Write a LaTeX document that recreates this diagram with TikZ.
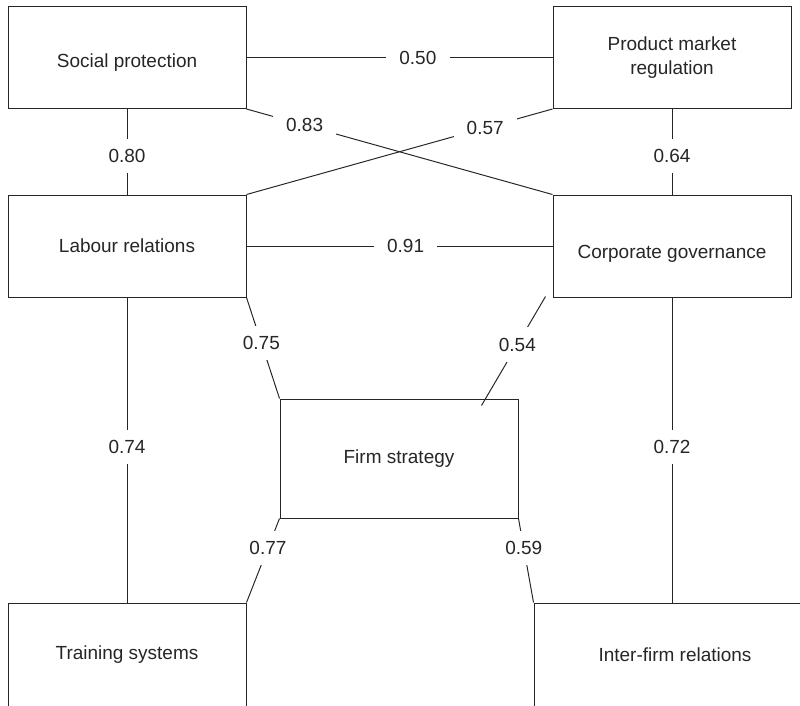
\documentclass[tikz,border=0pt]{standalone}
\usepackage{fontspec}
\setmainfont{Liberation Sans}
\usetikzlibrary{calc}

\begin{document}
\begin{tikzpicture}
      \newcommand{\corrlabel}[2]{node[lbl,pos=#1] {#2}}
      \tikzstyle{edge} = [draw=black!85, line width=0.7pt]
      \tikzstyle{box}  = [
        rectangle,
        draw=black!85,
        line width=0.7pt,
        minimum width=5.95cm,
        minimum height=2.55cm,
        align=center,
        text=black!85,
        font=\fontsize{13.5}{16.5}\selectfont,
      ]
      \tikzstyle{lbl} = [
        fill=white,
        inner xsep=0.33cm,
        inner ysep=0.26cm,
        text=black!85,
        font=\fontsize{13.5}{16.5}\selectfont,
      ]

      \useasboundingbox (0,0) rectangle (20,-17.625);
      \clip (0,0) rectangle (20,-17.625);

      \node[box, text height=0.59cm] (sp)  at (3.175,-1.4375)  {Social protection};
      \node[box] (pmr) at (16.8,-1.4375)   {Product market\\regulation};
      \node[box] (lr)  at (3.175,-6.15)    {Labour relations};
      \node[box, text height=0.72cm] (cg)  at (16.8,-6.15)     {Corporate governance};
      \node[box, minimum height=2.975cm] (fs) at (9.975,-11.4625) {Firm strategy};
      \node[box, minimum height=2.6cm] (ts) at (3.175,-16.375) {Training systems};
      \node[box, minimum width=7.05cm, minimum height=2.6cm] (ifr) at (16.875,-16.375) {Inter-firm relations};

      \coordinate (cgout) at ($(cg.south west)+(-0.175,0.025)$);
      \coordinate (fsin)  at ($(fs.north east)+(-0.925,-0.175)$);

      \draw[edge] (sp)--(pmr) \corrlabel{0.56}{0.50};
      \draw[edge] (sp)--(lr) \corrlabel{0.55}{0.80};
      \draw[edge] (pmr)--(cg) \corrlabel{0.55}{0.64};
      \draw[edge] (sp.south east)--(cg.north west) \corrlabel{0.19}{0.83};
      \draw[edge] (pmr.south west)--(lr.north east) \corrlabel{0.22}{0.57};
      \draw[edge] (lr)--(cg) \corrlabel{0.52}{0.91};
      \draw[edge] (lr.south east)--(fs.north west) \corrlabel{0.45}{0.75};
      \draw[edge] (cgout)--(fsin) \corrlabel{0.44}{0.54};
      \draw[edge] (lr)--(ts) \corrlabel{0.49}{0.74};
      \draw[edge] (cg.south)--(cg.south |- ifr.north) \corrlabel{0.49}{0.72};
      \draw[edge] (fs.south west)--(ts.north east) \corrlabel{0.35}{0.77};
      \draw[edge] (fs.south east)--(ifr.north west) \corrlabel{0.35}{0.59};
    \end{tikzpicture}
\end{document}
